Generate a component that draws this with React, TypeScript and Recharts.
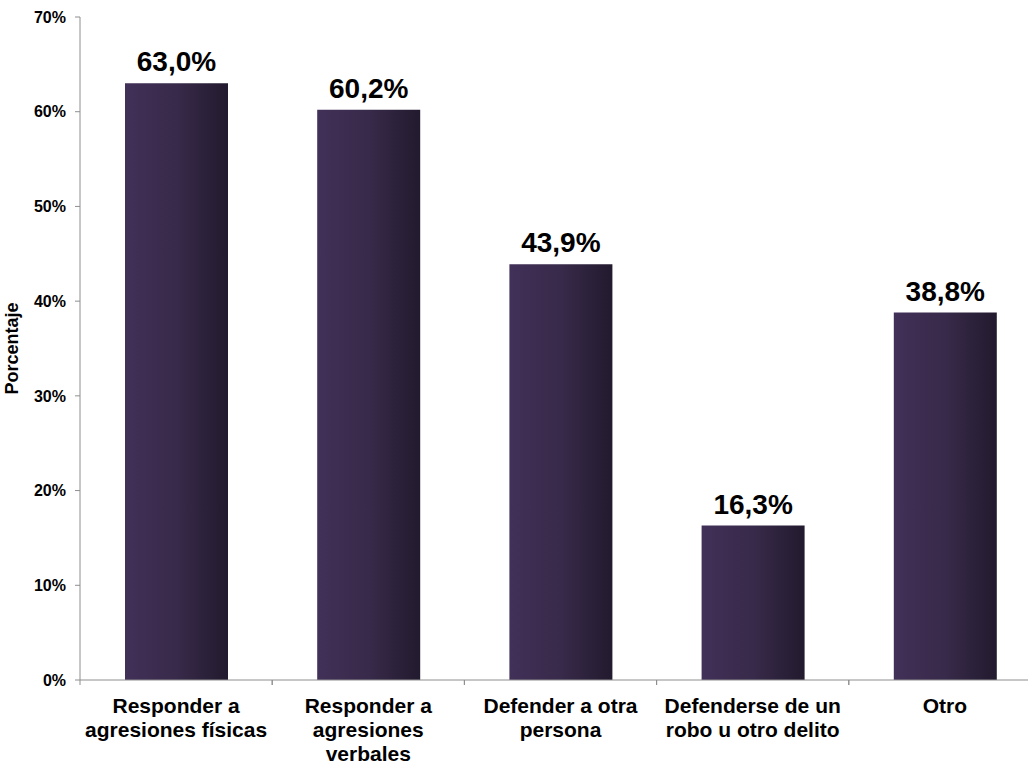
import { BarChart, Bar, XAxis, YAxis, LabelList } from "recharts";

const categories = [
  "Responder a\nagresiones físicas",
  "Responder a\nagresiones\nverbales",
  "Defender a otra\npersona",
  "Defenderse de un\nrobo u otro delito",
  "Otro",
];
const percentages = [63.0, 60.2, 43.9, 16.3, 38.8];
const yTicks = [0, 10, 20, 30, 40, 50, 60, 70];

const data = categories.map((name, i) => ({ name, value: percentages[i] }));

const W = 1060;
const H = 764;
const MARGIN = { top: 17, right: 19, left: 0, bottom: 0 };
const Y_AXIS_W = 80;
const X_AXIS_H = 84;
const BAND = (W - MARGIN.right - MARGIN.left - Y_AXIS_W) / categories.length;
const FONT = "'Liberation Sans', Arial, sans-serif";
const AXIS_COLOR = "#8e8e8e";

const CategoryTick = (props: any) => {
  const { x, y, payload } = props;
  const lines = String(payload.value).split("\n");
  const axisY = y - 8;
  return (
    <g>
      <line x1={x - BAND / 2} x2={x - BAND / 2} y1={axisY} y2={axisY + 5} stroke={AXIS_COLOR} />
      <line x1={x + BAND / 2} x2={x + BAND / 2} y1={axisY} y2={axisY + 5} stroke={AXIS_COLOR} />
      <text x={x} y={axisY} textAnchor="middle" fontFamily={FONT} fontWeight="bold" fontSize={21} fill="#000">
        {lines.map((l, i) => (
          <tspan key={i} x={x} dy={i === 0 ? 33 : 24}>
            {l}
          </tspan>
        ))}
      </text>
    </g>
  );
};

const App = () => {
  return (
    <div style={{ position: "absolute", left: 0, top: 0, width: 1028, height: 764, overflow: "hidden", background: "#fff" }}>
      <BarChart width={W} height={H} data={data} margin={MARGIN}>
        <defs>
          <linearGradient id="barFill" x1="0" y1="0" x2="1" y2="0">
            <stop offset="0%" stopColor="#413058" />
            <stop offset="50%" stopColor="#382a4a" />
            <stop offset="100%" stopColor="#221a2e" />
          </linearGradient>
        </defs>
        <XAxis
          dataKey="name"
          height={X_AXIS_H}
          axisLine={{ stroke: AXIS_COLOR }}
          tickLine={false}
          tick={<CategoryTick />}
          tickSize={6}
          tickMargin={2}
          interval={0}
        />
        <YAxis
          width={Y_AXIS_W}
          domain={[0, 70]}
          ticks={yTicks}
          interval={0}
          tickFormatter={(v: number) => `${v}%`}
          axisLine={{ stroke: AXIS_COLOR }}
          tickLine={{ stroke: AXIS_COLOR }}
          tickSize={5}
          tickMargin={9}
          tick={{ fontFamily: FONT, fontWeight: "bold", fontSize: 16, fill: "#000" }}
          label={{
            value: "Porcentaje",
            angle: -90,
            position: "insideLeft",
            offset: 12,
            style: { fontFamily: FONT, fontWeight: "bold", fontSize: 18, fill: "#000", textAnchor: "middle" },
          }}
        />
        <Bar dataKey="value" fill="url(#barFill)" barSize={103} isAnimationActive={false}>
          <LabelList
            dataKey="value"
            position="top"
            offset={12}
            formatter={(v: any) => `${Number(v).toFixed(1).replace(".", ",")}%`}
            style={{ fontFamily: FONT, fontWeight: "bold", fontSize: 28, fill: "#000" }}
          />
        </Bar>
      </BarChart>
    </div>
  );
};

export default App;
